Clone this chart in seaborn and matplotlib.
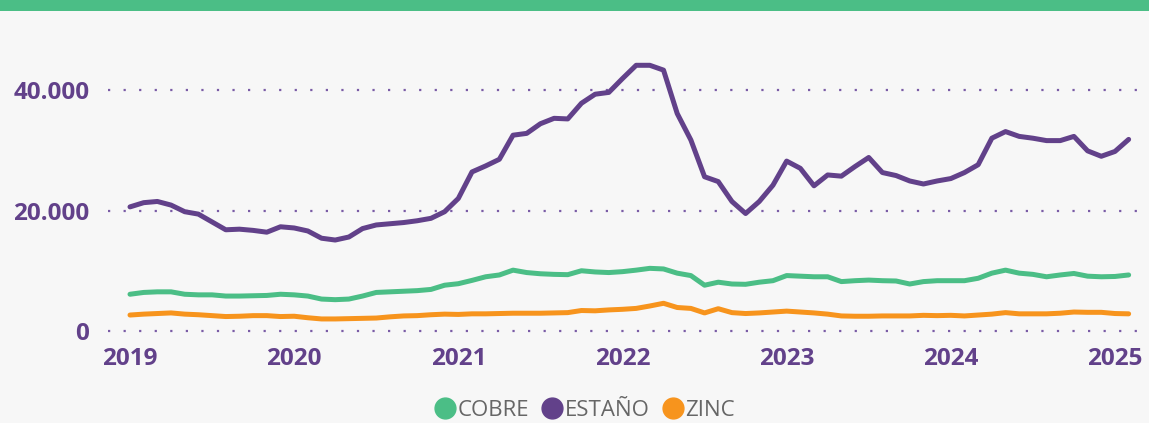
import numpy as np
import pandas as pd
import matplotlib
matplotlib.use("Agg")
import matplotlib.pyplot as plt
from matplotlib.lines import Line2D
from matplotlib.patches import Rectangle
import seaborn as sns

# Monthly prices, Jan 2019 .. Feb 2025 (USD/t)
months = pd.date_range("2019-01-01", "2025-02-01", freq="MS")
estano = [20600, 21300, 21500, 20900, 19800, 19400, 18100, 16800, 16900, 16700, 16400, 17300,
          17100, 16600, 15400, 15100, 15600, 17000, 17600, 17800, 18000, 18300, 18700, 19800,
          22000, 26400, 27400, 28500, 32500, 32800, 34400, 35300, 35200, 37800, 39300, 39600,
          41900, 44100, 44100, 43300, 36100, 31700, 25600, 24800, 21500, 19500, 21500, 24200,
          28200, 27000, 24100, 25900, 25700, 27300, 28800, 26300, 25800, 24900, 24400, 24900,
          25300, 26300, 27600, 32000, 33100, 32300, 32000, 31600, 31600, 32300, 29900, 29000,
          29800, 31800]
cobre = [6100, 6400, 6500, 6500, 6100, 6000, 6000, 5800, 5800, 5850, 5900, 6100,
         6000, 5800, 5300, 5200, 5300, 5800, 6400, 6500, 6600, 6700, 6900, 7600,
         7850, 8400, 9000, 9300, 10100, 9700, 9500, 9400, 9350, 10000, 9800, 9700,
         9850, 10100, 10400, 10300, 9600, 9200, 7600, 8100, 7800, 7750, 8100, 8350,
         9200, 9100, 9000, 9000, 8200, 8350, 8450, 8350, 8300, 7800, 8200, 8350,
         8350, 8350, 8750, 9600, 10100, 9600, 9400, 9000, 9300, 9550, 9100, 9000,
         9050, 9300]
zinc = [2650, 2800, 2900, 3000, 2800, 2700, 2550, 2400, 2450, 2550, 2550, 2400,
        2450, 2200, 2000, 2000, 2050, 2100, 2150, 2350, 2500, 2550, 2700, 2800,
        2750, 2850, 2850, 2900, 2950, 2950, 2950, 3000, 3050, 3400, 3350, 3500,
        3600, 3750, 4150, 4600, 3900, 3750, 3000, 3700, 3050, 2900, 3000, 3150,
        3300, 3150, 3000, 2800, 2500, 2450, 2450, 2500, 2500, 2500, 2600, 2550,
        2600, 2500, 2650, 2800, 3050, 2850, 2850, 2850, 2950, 3150, 3100, 3100,
        2900, 2850]
series_names = ["COBRE", "ESTAÑO", "ZINC"]
year_labels = ["2019", "2020", "2021", "2022", "2023", "2024", "2025"]
y_ticks = [0, 20000, 40000]
y_tick_labels = ["0", "20.000", "40.000"]

colors = {"COBRE": "#4BBE86", "ESTAÑO": "#62418A", "ZINC": "#F7941D"}
purple = "#62418A"
bg = "#F7F7F7"

idx = np.arange(len(months))
df = pd.concat([
    pd.DataFrame({"i": idx, "valor": cobre, "metal": "COBRE"}),
    pd.DataFrame({"i": idx, "valor": estano, "metal": "ESTAÑO"}),
    pd.DataFrame({"i": idx, "valor": zinc, "metal": "ZINC"}),
])

sns.set_theme(style="white")
plt.rcParams["font.family"] = ["Open Sans", "DejaVu Sans"]

W, H = 1149, 423
fig = plt.figure(figsize=(W / 100, H / 100), dpi=100, facecolor=bg)
# header band
fig.patches.append(Rectangle((0, 1 - 11 / H), 1, 11 / H, transform=fig.transFigure,
                             facecolor="#4BBE86", edgecolor="none", zorder=0))

left_px, right_px, top_px, bot_px = 108, 1143, 60, 340
ax = fig.add_axes([left_px / W, 1 - bot_px / H, (right_px - left_px) / W, (bot_px - top_px) / H])
ax.set_facecolor(bg)

sns.lineplot(data=df, x="i", y="valor", hue="metal", hue_order=series_names,
             palette=colors, linewidth=3.6, ax=ax, legend=False,
             solid_capstyle="round", solid_joinstyle="round")

px_per_month = 13.68
x0 = 130
ax.set_xlim((left_px - x0) / px_per_month, (right_px - x0) / px_per_month)
px_per_unit = 241 / 40000
ax.set_ylim(-(bot_px - 331) / px_per_unit, (331 - top_px) / px_per_unit)

ax.set_yticks(y_ticks)
ax.set_yticklabels(y_tick_labels)
ax.set_xticks(np.arange(0, 73, 12))
ax.set_xticklabels(year_labels)
ax.tick_params(axis="both", length=0, labelcolor=purple, labelsize=17.5)
ax.tick_params(axis="y", pad=13.5)
ax.tick_params(axis="x", pad=5)
for lab in ax.get_xticklabels() + ax.get_yticklabels():
    lab.set_fontweight("bold")

ax.grid(False)
for yv in y_ticks:
    ax.axhline(yv, color="#7A5CA6", linestyle=(0, (1, 6)), linewidth=1.6, zorder=0)
for s in ax.spines.values():
    s.set_visible(False)
ax.set_xlabel("")
ax.set_ylabel("")

handles = [Line2D([0], [0], marker="o", linestyle="none", markersize=15,
                  markerfacecolor=colors[n], markeredgecolor=colors[n]) for n in series_names]
leg = fig.legend(handles, series_names, loc="center", bbox_to_anchor=(0.508, 1 - 410 / H),
                 ncol=3, frameon=False, handletextpad=0.0, columnspacing=0.5,
                 fontsize=16, labelcolor="#666666", handlelength=1.1)

fig.savefig("out.png", dpi=100, facecolor=bg)
